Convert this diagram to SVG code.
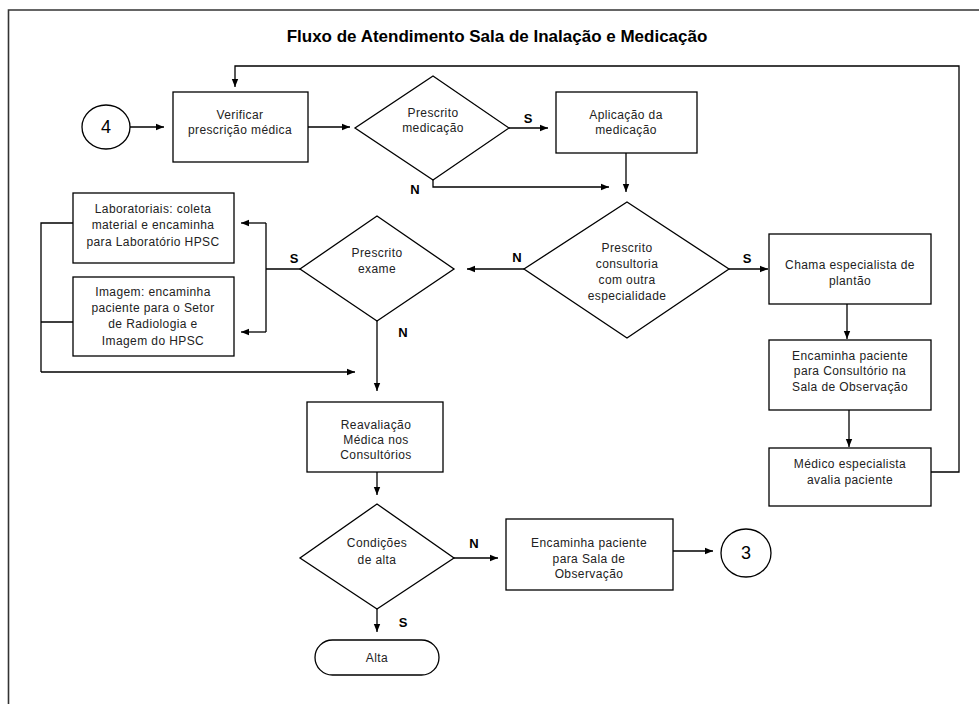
<svg xmlns="http://www.w3.org/2000/svg" width="979" height="704" viewBox="0 0 979 704">
  <defs>
    <marker id="arrow" viewBox="0 0 8 8" refX="8" refY="4" markerWidth="8" markerHeight="8" markerUnits="userSpaceOnUse" orient="auto">
      <path d="M0,0.8 L8,4 L0,7.2 Z" fill="#000"/>
    </marker>
    <style>
      .shape { fill: #fff; stroke: #000; stroke-width: 1.3; }
      .conn { fill: none; stroke: #000; stroke-width: 1.3; }
      .conn-arrow { fill: none; stroke: #000; stroke-width: 1.3; marker-end: url(#arrow); }
      .txt { font-family: "Liberation Sans", Arial, sans-serif; font-size: 12px; letter-spacing: 0.4px; fill: #222; text-anchor: middle; }
      .lbl { font-family: "Liberation Sans", Arial, sans-serif; font-size: 13px; font-weight: bold; fill: #000; text-anchor: middle; }
      .title { font-family: "Liberation Sans", Arial, sans-serif; font-size: 17px; font-weight: bold; fill: #000; text-anchor: middle; }
      .num { font-family: "Liberation Sans", Arial, sans-serif; font-size: 18px; fill: #000; text-anchor: middle; }
    </style>
  </defs>

  <rect x="0" y="0" width="979" height="704" fill="#fff"/>
  <!-- page frame (left and top edges) -->
  <path d="M8.5,704 L8.5,10 L979,10" fill="none" stroke="#333" stroke-width="1.6"/>

  <text class="title" x="497" y="42">Fluxo de Atendimento Sala de Inalação e Medicação</text>

  <!-- connectors -->
  <g id="connectors">
    <path class="conn-arrow" d="M130,127 L164,127"/>
    <path class="conn-arrow" d="M308,127 L350,127"/>
    <path class="conn-arrow" d="M509,128 L548,128"/>
    <path class="conn-arrow" d="M626,153 L626,192"/>
    <path class="conn-arrow" d="M433,180 L433,187 L609,187"/>
    <path class="conn-arrow" d="M729,269 L768,269"/>
    <path class="conn-arrow" d="M847,304 L847,339"/>
    <path class="conn-arrow" d="M849,410 L849,447"/>
    <path class="conn-arrow" d="M931,472 L959,472 L959,66 L235,66 L235,87"/>
    <path class="conn-arrow" d="M524,269 L467,269"/>
    <path class="conn" d="M300,269 L266,269 M266,223 L266,332"/>
    <path class="conn-arrow" d="M266,223 L241,223"/>
    <path class="conn-arrow" d="M266,332 L241,332"/>
    <path class="conn" d="M73,223 L41,223 L41,372 M41,322 L73,322"/>
    <path class="conn-arrow" d="M41,372 L355,372"/>
    <path class="conn-arrow" d="M377,321 L377,391"/>
    <path class="conn-arrow" d="M377,472 L377,495"/>
    <path class="conn-arrow" d="M454,558 L498,558"/>
    <path class="conn-arrow" d="M673,551 L713,551"/>
    <path class="conn-arrow" d="M377,609 L377,632"/>
  </g>

  <!-- branch labels -->
  <g id="labels">
    <text class="lbl" x="528" y="123">S</text>
    <text class="lbl" x="415" y="194">N</text>
    <text class="lbl" x="747" y="263">S</text>
    <text class="lbl" x="517" y="262">N</text>
    <text class="lbl" x="294" y="263">S</text>
    <text class="lbl" x="403" y="337">N</text>
    <text class="lbl" x="474" y="548">N</text>
    <text class="lbl" x="403" y="627">S</text>
  </g>

  <g id="start4">
    <ellipse class="shape" cx="106" cy="127" rx="24" ry="22"/>
    <text class="num" x="106" y="133">4</text>
  </g>

  <g id="verificar">
    <rect class="shape" x="173" y="92" width="135" height="70"/>
    <text class="txt" x="240" y="119">Verificar</text>
    <text class="txt" x="240" y="134">prescrição médica</text>
  </g>

  <g id="dec-medicacao">
    <polygon class="shape" points="433,76 509,128 433,180 355,128"/>
    <text class="txt" x="433" y="117">Prescrito</text>
    <text class="txt" x="433" y="132">medicação</text>
  </g>

  <g id="aplicacao">
    <rect class="shape" x="556" y="92" width="141" height="61"/>
    <text class="txt" x="626" y="119">Aplicação da</text>
    <text class="txt" x="626" y="134">medicação</text>
  </g>

  <g id="dec-consultoria">
    <polygon class="shape" points="627,202 729,269 627,338 524,269"/>
    <text class="txt" x="627" y="252">Prescrito</text>
    <text class="txt" x="627" y="268">consultoria</text>
    <text class="txt" x="627" y="284">com outra</text>
    <text class="txt" x="627" y="300">especialidade</text>
  </g>

  <g id="chama">
    <rect class="shape" x="769" y="234" width="162" height="70"/>
    <text class="txt" x="850" y="269">Chama especialista de</text>
    <text class="txt" x="850" y="285">plantão</text>
  </g>

  <g id="encaminha-consultorio">
    <rect class="shape" x="769" y="340" width="162" height="70"/>
    <text class="txt" x="850" y="360">Encaminha paciente</text>
    <text class="txt" x="850" y="375">para Consultório na</text>
    <text class="txt" x="850" y="391">Sala de Observação</text>
  </g>

  <g id="medico-especialista">
    <rect class="shape" x="769" y="448" width="162" height="58"/>
    <text class="txt" x="850" y="468">Médico especialista</text>
    <text class="txt" x="850" y="484">avalia paciente</text>
  </g>

  <g id="dec-exame">
    <polygon class="shape" points="377,216 454,269 377,321 300,269"/>
    <text class="txt" x="377" y="257">Prescrito</text>
    <text class="txt" x="377" y="273">exame</text>
  </g>

  <g id="laboratoriais">
    <rect class="shape" x="73" y="193" width="161" height="70"/>
    <text class="txt" x="153" y="213">Laboratoriais: coleta</text>
    <text class="txt" x="153" y="229">material e encaminha</text>
    <text class="txt" x="153" y="246">para Laboratório HPSC</text>
  </g>

  <g id="imagem">
    <rect class="shape" x="73" y="277" width="161" height="79"/>
    <text class="txt" x="153" y="296">Imagem: encaminha</text>
    <text class="txt" x="153" y="312">paciente para o Setor</text>
    <text class="txt" x="153" y="328">de Radiologia e</text>
    <text class="txt" x="153" y="345">Imagem do HPSC</text>
  </g>

  <g id="reavaliacao">
    <rect class="shape" x="307" y="402" width="136" height="70"/>
    <text class="txt" x="376" y="429">Reavaliação</text>
    <text class="txt" x="376" y="444">Médica nos</text>
    <text class="txt" x="376" y="459">Consultórios</text>
  </g>

  <g id="dec-alta">
    <polygon class="shape" points="377,504 454,558 377,609 300,558"/>
    <text class="txt" x="377" y="547">Condições</text>
    <text class="txt" x="377" y="564">de alta</text>
  </g>

  <g id="encaminha-sala">
    <rect class="shape" x="506" y="519" width="167" height="71"/>
    <text class="txt" x="589" y="547">Encaminha paciente</text>
    <text class="txt" x="589" y="563">para Sala de</text>
    <text class="txt" x="589" y="578">Observação</text>
  </g>

  <g id="end3">
    <ellipse class="shape" cx="746" cy="553" rx="25" ry="24"/>
    <text class="num" x="746" y="559">3</text>
  </g>

  <g id="alta">
    <rect class="shape" x="315" y="640" width="124" height="35" rx="17.5" ry="17.5"/>
    <text class="txt" x="377" y="662">Alta</text>
  </g>
</svg>
